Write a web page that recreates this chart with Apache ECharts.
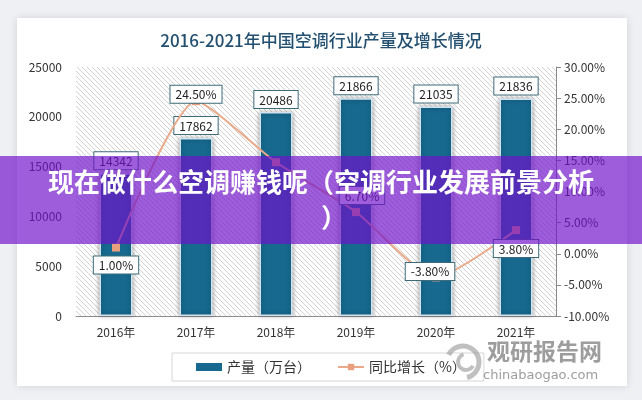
<!DOCTYPE html>
<html><head><meta charset="utf-8">
<script src="https://cdn.jsdelivr.net/npm/echarts@6/dist/echarts.min.js"></script>
<style>html,body{margin:0;padding:0;background:#eef0f3;}#c{width:642px;height:400px;}</style>
</head><body><div id="c"></div>
<script>
const categories = ['2016年','2017年','2018年','2019年','2020年','2021年'];
const output = [14342, 17862, 20486, 21866, 21035, 21836];
const growth = [1.00, 24.50, 14.70, 6.70, -3.80, 3.80];
const title = '2016-2021年中国空调行业产量及增长情况';
const seriesNames = ['产量（万台）', '同比增长（%）'];
const bannerLine1 = '现在做什么空调赚钱呢（空调行业发展前景分析';
const bannerLine2 = '）';

const FONT = '"Noto Sans CJK SC","Noto Sans",sans-serif';
const hatch = document.createElement('canvas');
hatch.width = 5; hatch.height = 5;
(function(){
  const g = hatch.getContext('2d');
  g.fillStyle = '#ffffff'; g.fillRect(0,0,5,5);
  g.strokeStyle = '#d2d2d2'; g.lineWidth = 1;
  g.beginPath(); g.moveTo(-1,-1); g.lineTo(6,6); g.stroke();
  g.beginPath(); g.moveTo(-1,4); g.lineTo(1,6); g.stroke();
  g.beginPath(); g.moveTo(4,-1); g.lineTo(6,1); g.stroke();
})();

const labelBox = {
  backgroundColor: '#ffffff', borderColor: '#3d6b7a', borderWidth: 1,
  padding: [3, 5, 2, 5], color: '#222', fontSize: 12, fontFamily: FONT
};
const lineLabelCfg = [
  {show: true, position: 'bottom', distance: 5},
  {show: true, position: 'inside', offset: [0, -7]},
  {show: false},
  {show: true, position: 'top', distance: 4, offset: [6, 0]},
  {show: true, position: 'inside', offset: [-6, -6]},
  {show: true, position: 'bottom', distance: 6}
];

const chart = echarts.init(document.getElementById('c'));
chart.setOption({
  backgroundColor: '#eef0f3',
  animation: false,
  title: {
    text: title, left: 'center', top: 27,
    textStyle: {color: '#234f70', fontSize: 17, fontWeight: 500, fontFamily: FONT}
  },
  grid: {
    left: 76, right: 86, top: 67, bottom: 84, show: true,
    backgroundColor: {image: hatch, repeat: 'repeat'}, borderWidth: 0
  },
  legend: {
    left: 172, top: 353, width: 295,
    padding: [7, 18, 7, 24], itemGap: 26,
    borderColor: '#d6d6d6', borderWidth: 1,
    textStyle: {color: '#333', fontSize: 14, fontFamily: FONT},
    data: [
      {name: seriesNames[0], icon: 'rect', itemStyle: {borderWidth: 0}},
      {name: seriesNames[1]}
    ],
    itemWidth: 26, itemHeight: 8
  },
  xAxis: {
    type: 'category', data: categories,
    axisLine: {lineStyle: {color: '#8c8c8c'}},
    axisTick: {show: false},
    axisLabel: {color: '#333', fontSize: 12, margin: 10, fontFamily: FONT},
    splitLine: {show: false}
  },
  yAxis: [
    {
      type: 'value', min: 0, max: 25000, interval: 5000,
      axisLine: {show: false}, axisTick: {show: false},
      splitLine: {show: false},
      axisLabel: {color: '#333', fontSize: 12, margin: 14, fontFamily: FONT,
        formatter: v => String(v)}
    },
    {
      type: 'value', min: -10, max: 30, interval: 5, position: 'right',
      axisLine: {show: true, lineStyle: {color: '#8a8a8a'}},
      axisTick: {show: true, length: 5, lineStyle: {color: '#8a8a8a'}},
      splitLine: {show: false},
      axisLabel: {color: '#333', fontSize: 12, margin: 8, fontFamily: FONT,
        formatter: v => v.toFixed(2) + '%'}
    }
  ],
  series: [
    {
      name: seriesNames[0], type: 'bar', data: output, barWidth: 33,
      itemStyle: {color: '#17698f', borderColor: '#cfe4ee', borderWidth: 1.5,
        shadowColor: 'rgba(0,0,0,0.35)', shadowBlur: 5},
      label: Object.assign({show: true, position: 'top', distance: 4}, labelBox),
      z: 2
    },
    {
      name: seriesNames[1], type: 'line', yAxisIndex: 1, smooth: 0.2,
      data: growth.map((v, i) => ({value: v, label: Object.assign({}, labelBox, lineLabelCfg[i], {
        formatter: p => p.value.toFixed(2) + '%'})})),
      symbol: 'rect', symbolSize: 8,
      lineStyle: {color: '#eaa988', width: 2},
      itemStyle: {color: '#e8a07f'},
      z: 3
    }
  ],
  graphic: [
    {type: 'rect', z: -10, silent: true, shape: {x: 17, y: 18, width: 610, height: 368},
      style: {fill: '#ffffff', shadowColor: 'rgba(0,0,0,0.12)', shadowBlur: 8}},
    {type: 'arc', z: 50, shape: {cx: 463, cy: 362, r: 16, startAngle: 3.6, endAngle: 7.6},
      style: {stroke: 'rgba(150,150,150,0.6)', lineWidth: 5, fill: null}},
    {type: 'arc', z: 50, shape: {cx: 466, cy: 362, r: 8, startAngle: 0.5, endAngle: 4.4},
      style: {stroke: 'rgba(150,150,150,0.6)', lineWidth: 4, fill: null}},
    {type: 'text', z: 50, left: 487, top: 340, style: {text: '观研报告网', fill: 'rgba(140,140,140,0.85)',
      font: 'bold 23px "Noto Sans CJK SC"'}},
    {type: 'text', z: 50, left: 483, top: 369, style: {text: 'chinabaogao.com', fill: 'rgba(140,140,140,0.85)',
      font: '13px "DejaVu Sans"'}},
    {type: 'rect', z: 100, silent: true, shape: {x: 0, y: 156, width: 642, height: 88},
      style: {fill: 'rgba(112,16,202,0.68)'}},
    {type: 'text', z: 101, x: 321, y: 182, style: {text: bannerLine1, fill: '#ffffff',
      font: 'bold 26px "Noto Sans CJK SC"', textAlign: 'center', textVerticalAlign: 'middle',
      shadowColor: 'rgba(0,0,0,0.25)', shadowBlur: 2}},
    {type: 'text', z: 101, x: 334, y: 217, style: {text: bannerLine2, fill: '#ffffff',
      font: 'bold 26px "Noto Sans CJK SC"', textAlign: 'center', textVerticalAlign: 'middle',
      shadowColor: 'rgba(0,0,0,0.25)', shadowBlur: 2}}
  ]
});
</script></body></html>
